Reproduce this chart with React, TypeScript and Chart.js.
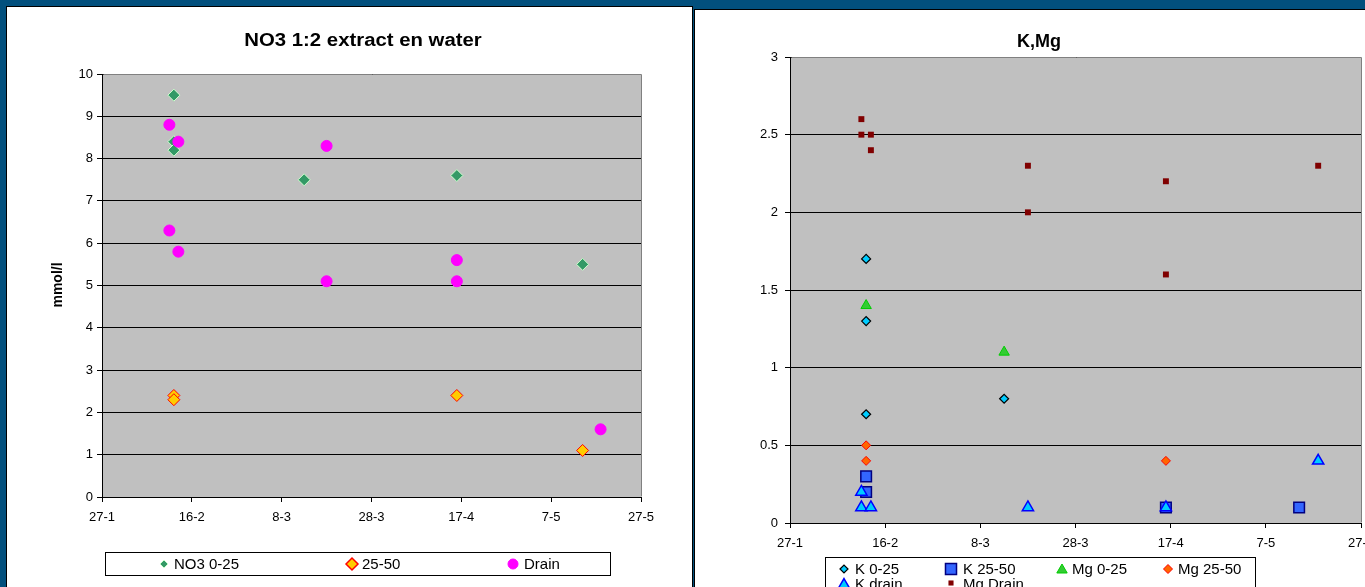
import React, { useEffect, useRef } from 'react';
import { Chart, registerables } from 'chart.js';

Chart.register(...registerables);

const FONT = '"Liberation Sans", Arial, Helvetica, sans-serif';
const PAGE_BG = '#02507d';
const PLOT_BG = '#c0c0c0';

// ---------- shared x-axis (day-month) ----------
const xTickLabels = ['27-1', '16-2', '8-3', '28-3', '17-4', '7-5', '27-5'];

// ---------- NO3 1:2 extract en water (mmol/l) ----------
const no3Top_dates = ['12-2', '12-2', '12-2', '13-3', '16-4', '14-5'];
const no3Top_values = [9.5, 8.4, 8.2, 7.5, 7.6, 5.5];
const no3Sub_dates = ['12-2', '12-2', '16-4', '14-5'];
const no3Sub_values = [2.4, 2.3, 2.4, 1.1];
const no3Drain_dates = ['11-2', '13-2', '11-2', '13-2', '18-3', '18-3', '16-4', '16-4', '18-5'];
const no3Drain_values = [8.8, 8.4, 6.3, 5.8, 8.3, 5.1, 5.6, 5.1, 1.6];

// ---------- K, Mg ----------
const kTop_dates = ['12-2', '12-2', '12-2', '13-3'];
const kTop_values = [1.7, 1.3, 0.7, 0.8];
const kSub_dates = ['12-2', '12-2', '16-4', '14-5'];
const kSub_values = [0.3, 0.2, 0.1, 0.1];
const mgTop_dates = ['12-2', '13-3'];
const mgTop_values = [1.4, 1.1];
const mgSub_dates = ['12-2', '12-2', '16-4'];
const mgSub_values = [0.5, 0.4, 0.4];
const kDrain_dates = ['11-2', '11-2', '13-2', '18-3', '16-4', '18-5'];
const kDrain_values = [0.2, 0.1, 0.1, 0.1, 0.1, 0.4];
const mgDrain_dates = ['11-2', '11-2', '13-2', '13-2', '18-3', '18-3', '16-4', '16-4', '18-5'];
const mgDrain_values = [2.6, 2.5, 2.5, 2.4, 2.3, 2.0, 2.2, 1.6, 2.3];

const MONTH_START = [0, 31, 59, 90, 120, 151, 181, 212, 243, 273, 304, 334];
const toDay = (s: string) => {
  const [d, m] = s.split('-').map(Number);
  return MONTH_START[m - 1] + d;
};
const pts = (dates: string[], values: number[]) => dates.map((d, i) => ({ x: toDay(d), y: values[i] }));

type Marker = { style: string; r: number; fill: string; stroke: string; lw: number };

function drawMarker(ctx: CanvasRenderingContext2D, m: Marker, x: number, y: number) {
  const r = m.r;
  ctx.save();
  ctx.beginPath();
  if (m.style === 'circle') {
    ctx.arc(x, y, r, 0, Math.PI * 2);
  } else if (m.style === 'rectRot') {
    ctx.moveTo(x - r, y);
    ctx.lineTo(x, y - r);
    ctx.lineTo(x + r, y);
    ctx.lineTo(x, y + r);
    ctx.closePath();
  } else if (m.style === 'rect') {
    const s = Math.SQRT1_2 * r;
    ctx.rect(x - s, y - s, 2 * s, 2 * s);
  } else if (m.style === 'triangle') {
    let a = 0;
    ctx.moveTo(x + Math.sin(a) * r, y - Math.cos(a) * r);
    a += (2 * Math.PI) / 3;
    ctx.lineTo(x + Math.sin(a) * r, y - Math.cos(a) * r);
    a += (2 * Math.PI) / 3;
    ctx.lineTo(x + Math.sin(a) * r, y - Math.cos(a) * r);
    ctx.closePath();
  }
  ctx.fillStyle = m.fill;
  ctx.fill();
  if (m.lw > 0) {
    ctx.lineWidth = m.lw;
    ctx.strokeStyle = m.stroke;
    ctx.stroke();
  }
  ctx.restore();
}

type LegendItem = { text: string; marker: Marker; mx: number; my: number; tx: number; ty: number };
type Decor = {
  title: string;
  titleX: number;
  titleY: number;
  titleScaleX: number;
  yTitle?: { text: string; x: number; y: number };
  legendBox: { x: number; y: number; w: number; h: number };
  legendItems: LegendItem[];
};

const align = (p: number) => Math.round(p - 0.5) + 0.5;

function decorPlugin(d: Decor) {
  return {
    id: 'decor',
    beforeDraw(chart: any) {
      const { ctx, chartArea: a } = chart;
      ctx.save();
      ctx.fillStyle = PLOT_BG;
      ctx.fillRect(a.left, a.top, a.right - a.left, a.bottom - a.top);
      ctx.restore();
    },
    beforeDatasetsDraw(chart: any) {
      const { ctx, chartArea: a } = chart;
      ctx.save();
      ctx.strokeStyle = '#808080';
      ctx.lineWidth = 1;
      ctx.beginPath();
      ctx.moveTo(align(a.left) + 1, align(a.top));
      ctx.lineTo(align(a.right), align(a.top));
      ctx.lineTo(align(a.right), align(a.bottom) - 1);
      ctx.stroke();
      ctx.restore();
    },
    afterDraw(chart: any) {
      const ctx: CanvasRenderingContext2D = chart.ctx;
      ctx.save();
      // title
      ctx.fillStyle = '#000';
      ctx.font = `bold 18px ${FONT}`;
      ctx.textAlign = 'center';
      ctx.textBaseline = 'alphabetic';
      ctx.translate(d.titleX, d.titleY);
      ctx.scale(d.titleScaleX, 1);
      ctx.fillText(d.title, 0, 0);
      ctx.restore();
      // y title
      if (d.yTitle) {
        ctx.save();
        ctx.fillStyle = '#000';
        ctx.font = `bold 14px ${FONT}`;
        ctx.textAlign = 'center';
        ctx.textBaseline = 'middle';
        ctx.translate(d.yTitle.x, d.yTitle.y);
        ctx.rotate(-Math.PI / 2);
        ctx.fillText(d.yTitle.text, 0, 0);
        ctx.restore();
      }
      // legend
      ctx.save();
      const b = d.legendBox;
      ctx.fillStyle = '#fff';
      ctx.fillRect(b.x, b.y, b.w, b.h);
      ctx.strokeStyle = '#000';
      ctx.lineWidth = 1;
      ctx.strokeRect(b.x + 0.5, b.y + 0.5, b.w, b.h);
      ctx.font = `15px ${FONT}`;
      ctx.textAlign = 'left';
      ctx.textBaseline = 'alphabetic';
      ctx.fillStyle = '#000';
      for (const it of d.legendItems) {
        drawMarker(ctx, it.marker, it.mx, it.my);
        ctx.fillStyle = '#000';
        ctx.fillText(it.text, it.tx, it.ty);
      }
      ctx.restore();
    },
  };
}

// Series later in the list are drawn on top (as in the original spreadsheet chart).
function ds(label: string, dates: string[], values: number[], m: Marker, order: number) {
  return {
    label,
    order,
    data: pts(dates, values),
    showLine: false,
    pointStyle: m.style,
    pointRadius: m.r,
    pointHoverRadius: m.r,
    pointBackgroundColor: m.fill,
    pointBorderColor: m.stroke,
    pointBorderWidth: m.lw,
  };
}

function makeConfig(opts: {
  datasets: any[];
  yMax: number;
  yStep: number;
  yLabelPad: number;
  padding: { left: number; right: number; top: number; bottom: number };
  yWidth: number;
  xHeight: number;
  decor: Decor;
}) {
  const tickFont = { size: 13, family: FONT };
  return {
    type: 'scatter',
    data: { datasets: opts.datasets },
    options: {
      animation: false,
      responsive: false,
      devicePixelRatio: 1,
      events: [],
      layout: { padding: opts.padding },
      plugins: { legend: { display: false }, title: { display: false }, tooltip: { enabled: false } },
      scales: {
        x: {
          type: 'linear',
          min: toDay(xTickLabels[0]),
          max: toDay(xTickLabels[xTickLabels.length - 1]),
          afterBuildTicks: (s: any) => {
            s.ticks = xTickLabels.map((l) => ({ value: toDay(l) }));
          },
          afterFit: (s: any) => {
            s.height = opts.xHeight;
          },
          ticks: {
            autoSkip: false,
            maxRotation: 0,
            padding: 8,
            color: '#000',
            font: tickFont,
            callback: (v: number) => xTickLabels.find((l) => toDay(l) === v) ?? '',
          },
          grid: { drawOnChartArea: false, color: '#000', tickLength: 5, lineWidth: 1 },
          border: { color: '#000', width: 1 },
        },
        y: {
          type: 'linear',
          min: 0,
          max: opts.yMax,
          afterFit: (s: any) => {
            s.width = opts.yWidth;
          },
          ticks: {
            stepSize: opts.yStep,
            padding: opts.yLabelPad,
            color: '#000',
            font: tickFont,
            callback: (v: number) => String(v),
          },
          grid: { color: '#000', tickLength: 5, lineWidth: 1 },
          border: { color: '#000', width: 1 },
        },
      },
    },
    plugins: [decorPlugin(opts.decor)],
  };
}

// ---------- markers ----------
const mNo3Top: Marker = { style: 'rectRot', r: 6, fill: '#339966', stroke: '#ccffcc', lw: 1 };
const mNo3Sub: Marker = { style: 'rectRot', r: 6, fill: '#ffcc00', stroke: '#ff0000', lw: 1 };
const mNo3Drain: Marker = { style: 'circle', r: 5.5, fill: '#ff00ff', stroke: '#ff00ff', lw: 1 };

const mKTop: Marker = { style: 'rectRot', r: 4.5, fill: '#00ccff', stroke: '#000000', lw: 1.2 };
const mKSub: Marker = { style: 'rect', r: 7.5, fill: '#3366ff', stroke: '#000080', lw: 1.5 };
const mMgTop: Marker = { style: 'triangle', r: 6, fill: '#33cc33', stroke: '#00cc00', lw: 1 };
const mMgSub: Marker = { style: 'rectRot', r: 4.5, fill: '#ff6600', stroke: '#ff0000', lw: 1 };
const mKDrain: Marker = { style: 'triangle', r: 6.5, fill: '#00ccff', stroke: '#0000ff', lw: 1.5 };
const mMgDrain: Marker = { style: 'rect', r: 4.2, fill: '#800000', stroke: '#800000', lw: 0 };

function leftConfig() {
  return makeConfig({
    datasets: [
      ds('NO3 0-25', no3Top_dates, no3Top_values, mNo3Top, 3),
      ds('25-50', no3Sub_dates, no3Sub_values, mNo3Sub, 2),
      ds('Drain', no3Drain_dates, no3Drain_values, mNo3Drain, 1),
    ],
    yMax: 10,
    yStep: 1,
    yLabelPad: 4,
    padding: { left: 50, right: 51, top: 67, bottom: 50 },
    yWidth: 45,
    xHeight: 40,
    decor: {
      title: 'NO3 1:2 extract en water',
      titleX: 356,
      titleY: 39,
      titleScaleX: 1.13,
      yTitle: { text: 'mmol/l', x: 51, y: 278 },
      legendBox: { x: 98, y: 545, w: 505, h: 23 },
      legendItems: [
        { text: 'NO3 0-25', marker: { ...mNo3Top, r: 4 }, mx: 157, my: 557, tx: 167, ty: 562 },
        { text: '25-50', marker: { ...mNo3Sub, r: 6, lw: 1.5 }, mx: 345, my: 557, tx: 355, ty: 562 },
        { text: 'Drain', marker: { ...mNo3Drain, r: 5 }, mx: 506, my: 557, tx: 517, ty: 562 },
      ],
    },
  });
}

function rightConfig() {
  return makeConfig({
    datasets: [
      ds('K 0-25', kTop_dates, kTop_values, mKTop, 6),
      ds('K 25-50', kSub_dates, kSub_values, mKSub, 5),
      ds('Mg 0-25', mgTop_dates, mgTop_values, mMgTop, 4),
      ds('Mg 25-50', mgSub_dates, mgSub_values, mMgSub, 3),
      ds('K drain', kDrain_dates, kDrain_values, mKDrain, 2),
      ds('Mg Drain', mgDrain_dates, mgDrain_values, mMgDrain, 1),
    ],
    yMax: 3,
    yStep: 0.5,
    yLabelPad: 7,
    padding: { left: 51, right: 33, top: 48, bottom: 24 },
    yWidth: 45,
    xHeight: 40,
    decor: {
      title: 'K,Mg',
      titleX: 345,
      titleY: 38,
      titleScaleX: 1,
      legendBox: { x: 131, y: 548, w: 430, h: 50 },
      legendItems: [
        { text: 'K 0-25', marker: { ...mKTop, r: 4 }, mx: 150, my: 560, tx: 161, ty: 565 },
        { text: 'K 25-50', marker: { ...mKSub, r: 7.8 }, mx: 257, my: 560, tx: 269, ty: 565 },
        { text: 'Mg 0-25', marker: { ...mMgTop, r: 6 }, mx: 368, my: 561, tx: 378, ty: 565 },
        { text: 'Mg 25-50', marker: { ...mMgSub, r: 4.5 }, mx: 474, my: 560, tx: 484, ty: 565 },
        { text: 'K drain', marker: { ...mKDrain, r: 6.5 }, mx: 150, my: 576, tx: 161, ty: 580 },
        { text: 'Mg Drain', marker: { ...mMgDrain, r: 3.6 }, mx: 257, my: 574, tx: 269, ty: 580 },
      ],
    },
  });
}

function ChartCanvas(props: { build: () => any; left: number; top: number; width: number; height: number }) {
  const ref = useRef<HTMLCanvasElement>(null);
  useEffect(() => {
    const chart = new Chart(ref.current as HTMLCanvasElement, props.build() as any);
    return () => chart.destroy();
  }, []);
  return (
    <canvas
      ref={ref}
      width={props.width}
      height={props.height}
      style={{ position: 'absolute', left: props.left, top: props.top, width: props.width, height: props.height }}
    />
  );
}

export default function App() {
  return (
    <div
      style={{
        position: 'fixed',
        left: 0,
        top: 0,
        width: 1365,
        height: 587,
        overflow: 'hidden',
        background: PAGE_BG,
      }}
    >
      <div
        style={{
          position: 'absolute',
          left: 6,
          top: 6,
          width: 687,
          height: 600,
          background: '#fff',
          border: '1px solid #000',
          boxSizing: 'border-box',
        }}
      />
      <div
        style={{
          position: 'absolute',
          left: 694,
          top: 9,
          width: 720,
          height: 600,
          background: '#fff',
          border: '1px solid #000',
          boxSizing: 'border-box',
        }}
      />
      <ChartCanvas build={leftConfig} left={7} top={7} width={685} height={580} />
      <ChartCanvas build={rightConfig} left={694} top={9} width={700} height={578} />
    </div>
  );
}
